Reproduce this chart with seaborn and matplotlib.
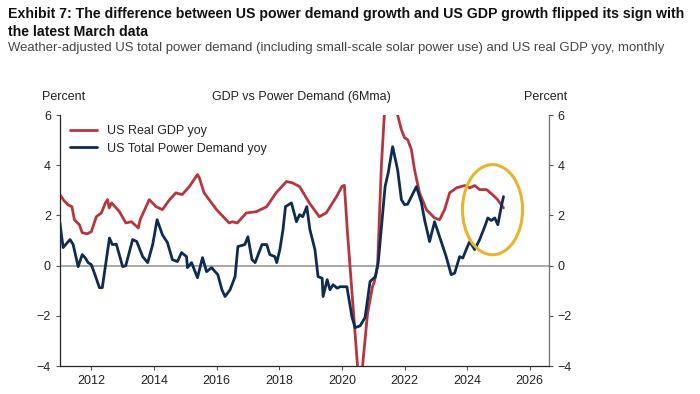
import pandas as pd
import numpy as np
import matplotlib
matplotlib.use("Agg")
import matplotlib.pyplot as plt
from matplotlib.patches import Ellipse
import seaborn as sns

# values (decimal year, percent yoy, 6Mma)
gdp_t = [2011.00, 2011.12, 2011.25, 2011.38, 2011.46, 2011.62, 2011.71, 2011.87, 2012.00, 2012.16,
         2012.32, 2012.45, 2012.52, 2012.57, 2012.65, 2012.90, 2013.10, 2013.28, 2013.44, 2013.50,
         2013.56, 2013.85, 2014.07, 2014.27, 2014.50, 2014.70, 2014.90, 2015.13, 2015.39, 2015.45,
         2015.60, 2016.00, 2016.40, 2016.50, 2016.66, 2016.95, 2017.27, 2017.60, 2017.90, 2018.23,
         2018.42, 2018.65, 2018.96, 2019.28, 2019.50, 2019.83, 2020.00, 2020.08, 2020.18, 2020.34,
         2020.50, 2020.57, 2020.66, 2020.82, 2020.98, 2021.04, 2021.14, 2021.26, 2021.36, 2021.55,
         2021.74, 2021.78, 2021.90, 2022.00, 2022.10, 2022.22, 2022.32, 2022.48, 2022.70, 2022.96,
         2023.12, 2023.28, 2023.44, 2023.66, 2023.92, 2024.08, 2024.24, 2024.40, 2024.62, 2024.81,
         2024.97, 2025.16]
gdp_v = [2.83, 2.60, 2.43, 2.35, 1.83, 1.63, 1.31, 1.27, 1.35, 1.95,
         2.10, 2.50, 2.63, 2.30, 2.50, 2.15, 1.70, 1.75, 1.57, 1.50,
         1.83, 2.63, 2.35, 2.23, 2.63, 2.90, 2.83, 3.15, 3.63, 3.50,
         2.90, 2.23, 1.70, 1.75, 1.70, 2.10, 2.15, 2.35, 2.90, 3.35,
         3.30, 3.15, 2.50, 1.95, 2.10, 2.75, 3.15, 3.20, 1.30, -1.35,
         -4.00, -5.50, -4.00, -1.90, -0.83, -0.63, 0.00, 3.95, 6.10, 9.50,
         6.30, 6.00, 5.42, 5.10, 5.02, 4.62, 3.82, 2.90, 2.23, 1.90,
         1.83, 2.23, 2.90, 3.10, 3.19, 3.10, 3.19, 3.03, 3.03, 2.83,
         2.63, 2.30]

pwr_t = [2011.00, 2011.06, 2011.10, 2011.32, 2011.42, 2011.58, 2011.71, 2011.80, 2011.90, 2012.00,
         2012.10, 2012.26, 2012.35, 2012.58, 2012.67, 2012.80, 2013.00, 2013.10, 2013.32, 2013.45,
         2013.64, 2013.80, 2013.96, 2014.10, 2014.27, 2014.43, 2014.59, 2014.75, 2014.88, 2015.04,
         2015.07, 2015.20, 2015.39, 2015.55, 2015.68, 2015.84, 2016.04, 2016.17, 2016.27, 2016.43,
         2016.59, 2016.68, 2016.90, 2017.00, 2017.13, 2017.23, 2017.45, 2017.60, 2017.70, 2017.86,
         2017.92, 2018.02, 2018.12, 2018.20, 2018.30, 2018.39, 2018.55, 2018.65, 2018.75, 2018.88,
         2018.98, 2019.14, 2019.24, 2019.37, 2019.40, 2019.53, 2019.62, 2019.72, 2019.85, 2019.94,
         2020.16, 2020.32, 2020.42, 2020.58, 2020.74, 2020.90, 2021.07, 2021.16, 2021.38, 2021.48,
         2021.62, 2021.78, 2021.90, 2022.00, 2022.10, 2022.22, 2022.38, 2022.54, 2022.64, 2022.80,
         2022.96, 2023.12, 2023.33, 2023.49, 2023.60, 2023.76, 2023.86, 2023.97, 2024.08, 2024.24,
         2024.40, 2024.56, 2024.66, 2024.77, 2024.88, 2024.98, 2025.09, 2025.16]
pwr_v = [1.70, 1.10, 0.72, 1.04, 0.84, -0.04, 0.44, 0.32, 0.12, 0.04,
         -0.30, -0.88, -0.88, 1.10, 0.84, 0.85, -0.04, 0.00, 1.04, 0.96,
         0.36, 0.12, 0.84, 1.83, 1.23, 0.92, 0.24, 0.16, 0.52, 0.36,
         -0.08, 0.12, -0.48, 0.32, -0.24, -0.08, -0.36, -0.96, -1.23, -0.96,
         -0.44, 0.76, 0.84, 1.15, 0.24, 0.12, 0.84, 0.84, 0.44, 0.36,
         0.12, 0.64, 1.43, 2.35, 2.43, 2.50, 1.75, 2.03, 1.95, 2.35,
         1.43, 0.64, -0.44, -0.50, -1.23, -0.56, -0.96, -0.76, -0.90, -0.84,
         -0.84, -2.03, -2.47, -2.40, -2.07, -0.63, -0.44, 0.12, 3.15, 3.70,
         4.74, 3.82, 2.63, 2.43, 2.45, 2.75, 3.15, 2.50, 1.83, 0.96,
         1.75, 1.15, 0.36, -0.36, -0.30, 0.36, 0.30, 0.64, 0.96, 0.64,
         1.04, 1.55, 1.90, 1.80, 1.90, 1.63, 2.35, 2.75]

x_ticks = [2012, 2014, 2016, 2018, 2020, 2022, 2024, 2026]
y_ticks = [-4, -2, 0, 2, 4, 6]

title_1 = "Exhibit 7: The difference between US power demand growth and US GDP growth flipped its sign with"
title_2 = "the latest March data"
subtitle = "Weather-adjusted US total power demand (including small-scale solar power use) and US real GDP yoy, monthly"

red = "#B5373D"
navy = "#0E2C52"
gold = "#E6B52E"

sns.set_style("ticks")
plt.rcParams["font.family"] = ["Liberation Sans", "DejaVu Sans"]

gdp = pd.DataFrame({"date": gdp_t, "value": gdp_v})
pwr = pd.DataFrame({"date": pwr_t, "value": pwr_v})

fig = plt.figure(figsize=(7, 3.94), dpi=100)
ax = fig.add_axes([0.0857, 0.071, 0.698, 0.637])

ax.axhline(0, color="#9a9a9a", lw=1.2, zorder=1)
sns.lineplot(data=gdp, x="date", y="value", ax=ax, color=red, lw=2, label="US Real GDP yoy")
sns.lineplot(data=pwr, x="date", y="value", ax=ax, color=navy, lw=2, label="US Total Power Demand yoy")

# highlight of the latest months
ax.add_patch(Ellipse((2024.81, 2.23), 1.92, 3.59, fill=False, ec=gold, lw=2.2, zorder=5))

ax.set_xlim(2011.0, 2026.6)
ax.set_ylim(-4, 6)
ax.set_xticks(x_ticks)
ax.set_yticks(y_ticks)
ax.set_yticklabels([str(t).replace("-", "\u2212") for t in y_ticks])
ax.set_xlabel("")
ax.set_ylabel("")
ax.tick_params(labelsize=9, color="#555555", length=3, width=0.8, labelcolor="#222222")
for s in ["left", "bottom", "right"]:
    ax.spines[s].set_color("#777777")
    ax.spines[s].set_linewidth(0.9)
ax.spines["top"].set_visible(False)

ax2 = ax.twinx()
ax2.set_ylim(-4, 6)
ax2.set_yticks(y_ticks)
ax2.set_yticklabels([str(t).replace("-", "\u2212") for t in y_ticks])
ax2.tick_params(labelsize=9, color="#555555", length=3, width=0.8, labelcolor="#222222")
ax2.spines["top"].set_visible(False)
ax2.spines["right"].set_color("#777777")

ax.legend(loc="upper left", bbox_to_anchor=(0.0, 1.0), frameon=False, fontsize=9,
          handlelength=2.2, borderaxespad=0.4, labelspacing=0.45)

fig.text(0.06, 0.745, "Percent", fontsize=9, color="#222222")
fig.text(0.748, 0.745, "Percent", fontsize=9, color="#222222")
fig.text(0.43, 0.745, "GDP vs Power Demand (6Mma)", fontsize=9, color="#222222", ha="center")

# header texts, shrunk so that each line spans the same width as in the reference
t1 = fig.text(0.011, 1 - 14 / 394, title_1, fontsize=12, fontweight="bold", va="center", color="#111111")
t2 = fig.text(0.011, 1 - 32 / 394, title_2, fontsize=12, fontweight="bold", va="center", color="#111111")
t3 = fig.text(0.011, 1 - 48 / 394, subtitle, fontsize=10, va="center", color="#444444")
r = fig.canvas.get_renderer()
for t, w in [(t1, 672), (t3, 660)]:
    t.set_fontsize(t.get_fontsize() * w / t.get_window_extent(r).width)
t2.set_fontsize(t1.get_fontsize())

fig.savefig("out.png", dpi=100)
